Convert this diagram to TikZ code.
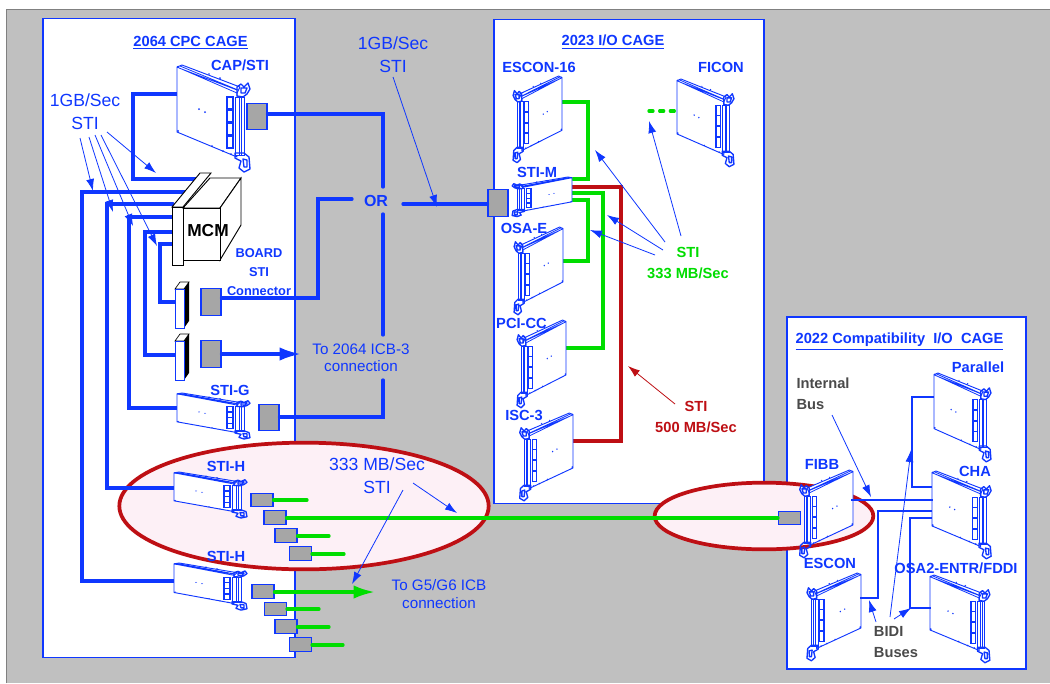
\documentclass[tikz,border=0pt]{standalone}
\usepackage{fontspec}
\setmainfont{Liberation Sans}
\usetikzlibrary{arrows.meta,positioning,shapes.geometric}
\definecolor{stiblue}{HTML}{0F37FF}
\definecolor{stigreen}{HTML}{00DD00}
\definecolor{stired}{HTML}{BE0F14}
\definecolor{stigray}{HTML}{C0C0C0}
\definecolor{boxgray}{HTML}{A6A6A6}
\definecolor{ringpink}{HTML}{FDF0F6}
\definecolor{notegray}{HTML}{4A4A4A}

\begin{document}
\begin{tikzpicture}[x=0.75pt,y=-0.75pt,
  cage/.style={draw=stiblue, line width=0.8pt, fill=white},
  ring/.style={draw=stired, line width=2.8pt, fill=ringpink},
  blubus/.style={draw=stiblue, line width=2.5pt, line cap=round},
  grnbus/.style={draw=stigreen, line width=2.5pt, line cap=round},
  redbus/.style={draw=stired, line width=2.6pt, line cap=round},
  thinbus/.style={draw=stiblue, line width=0.8pt},
  midbus/.style={draw=stiblue, line width=1.6pt},
  note/.style={-{Latex[length=9pt,width=6pt]}, draw=stiblue, line width=0.6pt},
  rednote/.style={-{Latex[length=9pt,width=6pt]}, draw=stired, line width=0.6pt},
  bigblue/.style={blubus, -{Latex[length=16pt,width=10pt]}},
  biggrn/.style={grnbus, -{Latex[length=16pt,width=10pt]}},
  stibox/.style={rectangle, draw=stiblue, line width=0.8pt, fill=boxgray, minimum width=#1, inner sep=0pt},
  tall/.style={stibox=15pt, minimum height=20pt},
  flat/.style={stibox=16.5pt, minimum height=10pt},
  lbl/.style={inner sep=0pt, align=center, text=stiblue, font=\fontsize{11}{13}\selectfont\bfseries},
  lblsm/.style={lbl, font=\fontsize{9.6}{11}\selectfont\bfseries},
  txt/.style={inner sep=0pt, align=center, text=stiblue, font=\fontsize{13.2}{16}\selectfont},
  txtsm/.style={inner sep=0pt, align=center, text=stiblue, font=\fontsize{11.4}{13}\selectfont},
  card/.pic={
    \draw[stiblue, line width=0.7pt, line join=round, fill=white] (0,2) -- (5,0) -- (63,22) -- (60,28) -- (60,92) -- (0,67) -- cycle;
    \draw[stiblue, line width=0.6pt] (0,2) -- (60,28) (3,1) -- (61,25) (2,3) -- (60,25);
    \draw[stiblue, line width=0.7pt, fill=white] (58,32) rectangle (67,90) (62,32) -- (62,90) (64,32) -- (64,90);
    \draw[stiblue, line width=0.8pt] (50,32) rectangle (56,44) (50,45) rectangle (56,57) (50,58) rectangle (56,70) (50,71) rectangle (56,83);
    \draw[stiblue, line width=1pt, line join=round] (60,22) -- (64,19) -- (67,22) -- (71,18) -- (73,24) -- (70,29) -- (66,32) -- (60,31) -- cycle (64,23) -- (70,23) -- (68,28) -- (64,28) -- cycle;
    \draw[stiblue, line width=1pt, line join=round] (58,88) -- (67,88) -- (72,92) -- (73,104) -- (67,107) -- (62,103) -- (64,96) -- (58,93) -- cycle (66,94) -- (70,95) -- (70,102) -- (67,102) -- cycle;
    \fill[stiblue] (22,44) circle (1) (28,47) circle (1) (1,2) circle (1.2) (1,66) circle (1.2) (35,81) circle (1) (46,86) circle (1) (43,13) circle (1) (32,9) circle (.8) (54,89) circle (1);
  },
  slot/.pic={
    \draw[black, line width=0.5pt, fill=white] (0,0) -- (5,-7) -- (14,-7) -- (9,0) -- cycle;
    \fill[black] (9,0) -- (14,-7) -- (14,32) -- (9,39) -- cycle;
    \draw[stiblue, line width=0.7pt, fill=white] (0,0) rectangle (9,39);
  }
]
  \useasboundingbox (0,0) rectangle (1050,683);
  \fill[white] (0,0) rectangle (1050,683);
  \fill[stigray] (6,9) rectangle (1050,683);
  \draw[gray, line width=1pt] (6.5,683) -- (6.5,9.5) -- (1050,9.5);

  % cages
  \node[cage, minimum width=189pt, minimum height=479.5pt, inner sep=0pt] (cpc) at (169,338) {};
  \node[cage, minimum width=202.5pt, minimum height=363pt, inner sep=0pt] (ioc) at (629,261.5) {};
  \node[cage, minimum width=179.25pt, minimum height=264pt, inner sep=0pt] (cmp) at (906.5,493) {};

  \node[ring, ellipse, minimum width=277pt, minimum height=95pt, inner sep=0pt] (ringl) at (304,506) {};
  \node[ring, ellipse, minimum width=164pt, minimum height=50pt, inner sep=0pt] (ringr) at (764,516) {};

  % gray connector boxes
  \node[tall] (capb) at (257,116.5) {};
  \node[tall] (bd1) at (211,302) {};
  \node[tall] (bd2) at (211,354) {};
  \node[tall] (stig) at (269,417.5) {};
  \node[tall] (iob) at (498,203) {};
  \node[flat] (h1) at (262,500) {};
  \node[flat] (h2) at (275,517.5) {};
  \node[flat] (h3) at (286,535.5) {};
  \node[flat] (h4) at (300.5,553.5) {};
  \node[flat] (j1) at (263,591.5) {};
  \node[flat] (j2) at (275.5,609) {};
  \node[flat] (j3) at (286,626.5) {};
  \node[flat] (j4) at (300.5,644.5) {};
  \node[flat] (fb) at (789.5,518) {};

  % points where the buses end
  \coordinate (pcap) at (178,94);
  \coordinate (pcpt) at (133,179);
  \coordinate (mcap) at (197,179);
  \coordinate (m1) at (187,192);
  \coordinate (m2) at (173,204);
  \coordinate (m3) at (173,217);
  \coordinate (m4) at (173,232);
  \coordinate (m5) at (173,244);
  \coordinate (s1) at (177,581);
  \coordinate (s2) at (175,488);
  \coordinate (s3) at (177,408);
  \coordinate (s4) at (176,355);
  \coordinate (s5) at (175,302);
  \coordinate (k1) at (82,581);
  \coordinate (k2) at (107,488);
  \coordinate (k3) at (129,408);
  \coordinate (k4) at (145,355);
  \coordinate (k5) at (160,302);

  \draw[blubus] (pcap) -| (pcpt) -- (mcap);
  \draw[blubus] (m1) -| (k1) -- (s1);
  \draw[blubus] (m2) -| (k2) -- (s2);
  \draw[blubus] (m3) -| (k3) -- (s3);
  \draw[blubus] (m4) -| (k4) -- (s4);
  \draw[blubus] (m5) -| (k5) -- (s5);

  \node[lbl, font=\fontsize{12}{14}\selectfont\bfseries] (orl) at (376,201) {OR};
  \coordinate (or1) at (383,187);
  \coordinate (or2) at (383,214);
  \coordinate (or3) at (383,335);
  \coordinate (or4) at (383,380);
  \coordinate (or5) at (352,199);
  \coordinate (or6) at (403,204);
  \coordinate (or7) at (318,298);
  \draw[blubus] (capb.east |- 0,114) -| (or1);
  \draw[blubus] (or2) -- (or3);
  \draw[blubus] (or4) |- (stig.east |- 0,417);
  \draw[blubus] (bd1.east |- or7) -| (or7 |- or5) -- (or5);
  \draw[blubus] (or6) -- (iob.west |- or6);
  \coordinate (cn2) at (301,354);
  \draw[bigblue] (bd2.east) -- (cn2);

  % 333 MB/Sec lines
  \coordinate (g1) at (307,500);
  \coordinate (g3) at (329,536);
  \coordinate (g4) at (344,554);
  \coordinate (g5) at (375,592);
  \coordinate (g6) at (319,609);
  \coordinate (g7) at (329,627);
  \coordinate (g8) at (343,645);
  \draw[grnbus] (h1.east) -- (g1);
  \draw[grnbus] (h2.east |- fb) -- (fb.west);
  \draw[grnbus] (h3.east |- g3) -- (g3);
  \draw[grnbus] (h4.east |- g4) -- (g4);
  \draw[biggrn] (j1.east |- g5) -- (g5);
  \draw[grnbus] (j2.east |- g6) -- (g6);
  \draw[grnbus] (j3.east |- g7) -- (g7);
  \draw[grnbus] (j4.east |- g8) -- (g8);

  % I/O cage lines
  \coordinate (e1) at (562,102);
  \coordinate (e2) at (573,179);
  \coordinate (e3) at (588,179);
  \coordinate (o1) at (572,200);
  \coordinate (o2) at (588,261);
  \coordinate (o3) at (562,261);
  \coordinate (c1) at (569,193);
  \coordinate (c2) at (603,348);
  \coordinate (c3) at (563,348);
  \coordinate (r1) at (572,187);
  \coordinate (r2) at (621,441);
  \coordinate (r3) at (573,441);
  \coordinate (f1) at (649,111);
  \coordinate (f2) at (684,111);
  \draw[grnbus] (e1) -| (e3) -- (e2);
  \draw[grnbus] (o1) -| (o2) -- (o3);
  \draw[grnbus] (c1) -| (c2) -- (c3);
  \draw[redbus] (r1) -| (r2) -- (r3);
  \draw[grnbus, dash pattern=on 3pt off 5pt] (f1) -- (f2);

  % the cards
  \pic[xscale=1,yscale=1] (pcap1) at (177,65) {card};
  \pic[xscale=1,yscale=.43] (pstig) at (177,393) {card};
  \pic[xscale=1,yscale=.43] (psth1) at (174,472) {card};
  \pic[xscale=1,yscale=.44] (psth2) at (174,563) {card};
  \pic[xscale=-.67,yscale=.81] (pesc) at (562,76) {card};
  \pic[xscale=.78,yscale=.82] (pfic) at (677,79) {card};
  \pic[xscale=-.82,yscale=.37] (pstm) at (572,177) {card};
  \pic[xscale=-.67,yscale=.82] (posa) at (563,227) {card};
  \pic[xscale=-.67,yscale=.82] (ppci) at (566,320) {card};
  \pic[xscale=-.73,yscale=.82] (pisc) at (573,413) {card};
  \pic[xscale=.78,yscale=.83] (ppar) at (934,373) {card};
  \pic[xscale=.81,yscale=.82] (pcha) at (932,471) {card};
  \pic[xscale=.82,yscale=.82] (posb) at (930,575) {card};
  \pic[xscale=-.73,yscale=.82] (pfib) at (853,470) {card};
  \pic[xscale=-.74,yscale=.82] (pesb) at (861,573) {card};
  \pic (pbd1) at (175,289) {slot};
  \pic (pbd2) at (175,341) {slot};

  % compatibility cage buses
  \coordinate (i1) at (851,500);
  \coordinate (i2) at (933,500);
  \draw[midbus] (i1) -- (i2);
  \coordinate (b1) at (860,598);
  \coordinate (b2) at (878,511);
  \coordinate (b3) at (932,511);
  \draw[thinbus] (b1) -| (b2) -- (b3);
  \coordinate (b4) at (934,397);
  \coordinate (b5) at (912,487);
  \coordinate (b6) at (932,487);
  \draw[thinbus] (b4) -| (b5) -- (b6);
  \coordinate (b7) at (931,608);
  \coordinate (b8) at (910,518);
  \coordinate (b9) at (932,518);
  \draw[thinbus] (b7) -| (b8) -- (b9);

  % MCM block
  \draw[black, line width=0.7pt, fill=white] (172,207) -- (200,173) -- (211,173) -- (183,207) -- cycle;
  \draw[black, line width=0.7pt, fill=white] (172,207) rectangle (183,265);
  \draw[black, line width=0.7pt, fill=white] (183,208) -- (210,178) -- (241,178) -- (220,208) -- cycle;
  \draw[black, line width=0.7pt, fill=white] (220,208) -- (241,178) -- (241,225) -- (220,260) -- cycle;
  \draw[black, line width=0.7pt, fill=white] (183,208) rectangle (220,260);
  \node[inner sep=0pt, font=\fontsize{13}{15}\selectfont\bfseries] (mcm) at (208,231) {MCM};

  % labels
  \node[lbl] (t1) at (190.5,43) {\underline{2064 CPC CAGE}};
  \node[lbl] (t2) at (613,42) {\underline{2023 I/O CAGE}};
  \node[lbl] (t3) at (899.5,341.5) {\underline{2022 Compatibility\ \ I/O\ \ CAGE}};
  \node[lbl] (capl) at (240,65) {CAP/STI};
  \node[lblsm] (brdl) at (259,272) {BOARD\\[3pt]STI\\[3pt]Connector};
  \node[lbl] (stgl) at (230,390) {STI-G};
  \node[lbl] (sh1l) at (226,466) {STI-H};
  \node[lbl] (sh2l) at (226,556) {STI-H};
  \node[lbl] (escl) at (539,67) {ESCON-16};
  \node[lbl] (ficl) at (721,67) {FICON};
  \node[lbl] (stml) at (537,172) {STI-M};
  \node[lbl] (osal) at (524,228) {OSA-E};
  \node[lbl] (pcil) at (521.5,323) {PCI-CC};
  \node[lbl] (iscl) at (524,415) {ISC-3};
  \node[lbl] (parl) at (978,367) {Parallel};
  \node[lbl] (chal) at (975,471) {CHA};
  \node[lbl] (fibl) at (822,464) {FIBB};
  \node[lbl] (esbl) at (830,563) {ESCON};
  \node[lbl] (osbl) at (956,568) {OSA2-ENTR/FDDI};
  \node[txt] (g1l) at (393,55) {1GB/Sec\\[1pt]STI};
  \node[txt] (g2l) at (85,112) {1GB/Sec\\[1pt]STI};
  \node[txtsm] (icb) at (361,358) {To 2064 ICB-3\\connection};
  \node[txtsm] (g56) at (439,594) {To G5/G6 ICB\\connection};
  \node[txt] (s33) at (377,475.5) {333 MB/Sec\\[1pt]STI};
  \node[lbl, text=stigreen] (sgl) at (688,263) {STI\\[2.5pt]333 MB/Sec};
  \node[lbl, text=stired] (srl) at (696,417) {STI\\[2.5pt]500 MB/Sec};
  \node[lbl, text=notegray, align=left] (ibl) at (823,394) {Internal\\[2.5pt]Bus};
  \node[lbl, text=notegray, align=left] (bdl) at (896,642) {BIDI\\[2.5pt]Buses};

  % pointer arrows
  \coordinate (a1) at (393,77);
  \coordinate (a2) at (437,207);
  \draw[note] (a1) -- (a2);
  \coordinate (l0) at (107,132);
  \coordinate (l1) at (156,173);
  \coordinate (l2) at (80,138);
  \coordinate (l3) at (93,191);
  \coordinate (l4) at (89,137);
  \coordinate (l5) at (113,212);
  \coordinate (l6) at (95,135);
  \coordinate (l7) at (133,226);
  \coordinate (l8) at (101,135);
  \coordinate (l9) at (157,246);
  \draw[note] (l0) -- (l1);
  \draw[note] (l2) -- (l3);
  \draw[note] (l4) -- (l5);
  \draw[note] (l6) -- (l7);
  \draw[note] (l8) -- (l9);
  \coordinate (q1) at (413,483);
  \coordinate (q2) at (457,513);
  \coordinate (q3) at (403,490);
  \coordinate (q4) at (352,584);
  \draw[note] (q1) -- (q2);
  \draw[note] (q3) -- (q4);
  \coordinate (v1) at (665,242);
  \coordinate (v2) at (595,150);
  \coordinate (v3) at (663,250);
  \coordinate (v4) at (607,215);
  \coordinate (v5) at (655,255);
  \coordinate (v6) at (590,230);
  \coordinate (v7) at (681,236);
  \coordinate (v8) at (649,121);
  \draw[note] (v1) -- (v2);
  \draw[note] (v3) -- (v4);
  \draw[note] (v5) -- (v6);
  \draw[note] (v7) -- (v8);
  \coordinate (w1) at (675,404);
  \coordinate (w2) at (628,366);
  \draw[rednote] (w1) -- (w2);
  \coordinate (n1) at (832,415);
  \coordinate (n2) at (871,497);
  \draw[note] (n1) -- (n2);
  \coordinate (n3) at (876,622);
  \coordinate (n4) at (869,600);
  \coordinate (n5) at (890,617);
  \coordinate (n6) at (911,450);
  \coordinate (n7) at (894,619);
  \coordinate (n8) at (911,608);
  \draw[note] (n3) -- (n4);
  \draw[note] (n5) -- (n6);
  \draw[note] (n7) -- (n8);
\end{tikzpicture}
\end{document}
